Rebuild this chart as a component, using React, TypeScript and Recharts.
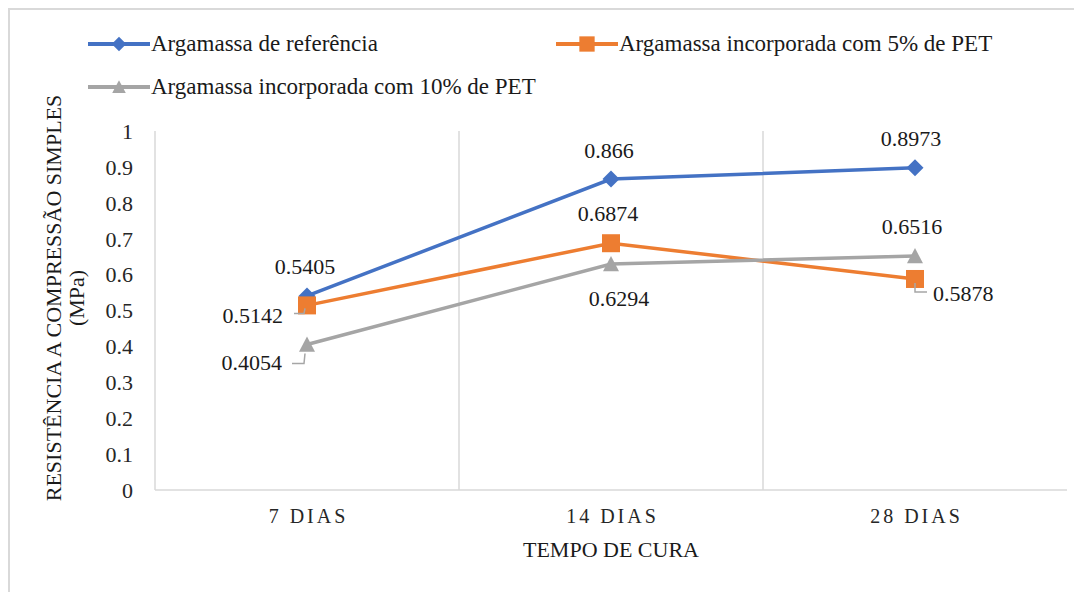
import React from 'react';
import { LineChart, Line, XAxis, YAxis, CartesianGrid, Legend, LabelList } from 'recharts';

const categories = ['7 DIAS', '14 DIAS', '28 DIAS'];
const referencia = [0.5405, 0.866, 0.8973];
const pet5 = [0.5142, 0.6874, 0.5878];
const pet10 = [0.4054, 0.6294, 0.6516];
const yTicks = [0, 0.1, 0.2, 0.3, 0.4, 0.5, 0.6, 0.7, 0.8, 0.9, 1];

const seriesNames = {
    ref: 'Argamassa de referência',
    p5: 'Argamassa incorporada com 5% de PET',
    p10: 'Argamassa incorporada com 10% de PET',
};

const chartData = categories.map((name, i) => ({
    name,
    ref: referencia[i],
    p5: pet5[i],
    p10: pet10[i],
}));

const FONT =
    "'Liberation Serif', 'LiberationSerif', 'Times New Roman', Times, 'Nimbus Roman', 'Nimbus Roman No9 L', FreeSerif, 'Noto Serif', 'DejaVu Serif', serif";
const BLUE = '#4472C4';
const ORANGE = '#ED7D31';
const GRAY = '#A5A5A5';
const AXIS = '#d9d9d9';

type Shape = 'diamond' | 'square' | 'triangle';

function Marker({ cx, cy, shape, color, size = 1 }: { cx: number; cy: number; shape: Shape; color: string; size?: number }) {
    if (shape === 'diamond') {
        const r = 8.5 * size;
        return <polygon points={`${cx},${cy - r} ${cx + r},${cy} ${cx},${cy + r} ${cx - r},${cy}`} fill={color} />;
    }
    if (shape === 'square') {
        const r = 9 * size;
        return <rect x={cx - r} y={cy - r} width={r * 2} height={r * 2} fill={color} />;
    }
    const r = 8 * size;
    return <polygon points={`${cx},${cy - r} ${cx + r},${cy + r * 0.9} ${cx - r},${cy + r * 0.9}`} fill={color} />;
}

const makeDot = (shape: Shape, color: string) => (props: any) => {
    const { cx, cy, index } = props;
    if (cx == null || cy == null) return <g key={`d-${index}`} />;
    return (
        <g key={`d-${shape}-${index}`}>
            <Marker cx={cx} cy={cy} shape={shape} color={color} />
        </g>
    );
};

// where each data label sits relative to its point, plus the small leader line
type Place = { dx: number; dy: number; anchor: 'start' | 'middle' | 'end'; leader?: number[][] };
const placements: Record<string, Place[]> = {
    ref: [
        { dx: -2, dy: -30, anchor: 'middle' },
        { dx: -2, dy: -29, anchor: 'middle' },
        { dx: -4, dy: -30, anchor: 'middle' },
    ],
    p5: [
        { dx: -24, dy: 10, anchor: 'end', leader: [[-13, 8], [-3, 8], [-2, 3]] },
        { dx: -3, dy: -30, anchor: 'middle' },
        { dx: 18, dy: 14, anchor: 'start', leader: [[0, 4], [0, 13], [12, 13]] },
    ],
    p10: [
        { dx: -25, dy: 18, anchor: 'end', leader: [[-15, 19], [-3, 19], [-2, 9]] },
        { dx: 8, dy: 34, anchor: 'middle' },
        { dx: -3, dy: -30, anchor: 'middle' },
    ],
};

const makeLabel = (key: string) => (props: any) => {
    const { x, y, value, index } = props;
    const p = placements[key][index];
    return (
        <g key={`l-${key}-${index}`}>
            {p.leader && (
                <polyline
                    points={p.leader.map(([a, b]) => `${x + a},${y + b}`).join(' ')}
                    fill="none"
                    stroke="#a6a6a6"
                    strokeWidth={1.5}
                />
            )}
            <text x={x + p.dx} y={y + p.dy} dy="0.35em" textAnchor={p.anchor} fontSize={22} style={{ fontFamily: FONT }} fill="#1a1a1a">
                {String(value)}
            </text>
        </g>
    );
};

const shapeOf: Record<string, Shape> = { ref: 'diamond', p5: 'square', p10: 'triangle' };
const legendPos: Record<string, { left: number; top: number }> = {
    ref: { left: 8, top: 0 },
    p5: { left: 476, top: 0 },
    p10: { left: 8, top: 43 },
};

function LegendContent({ payload }: any) {
    return (
        <div style={{ position: 'relative', width: 1000, height: 80 }}>
            {(payload || []).map((item: any) => (
                <div
                    key={item.dataKey}
                    style={{
                        position: 'absolute',
                        left: legendPos[item.dataKey].left,
                        top: legendPos[item.dataKey].top,
                        height: 28,
                        display: 'flex',
                        alignItems: 'center',
                        whiteSpace: 'nowrap',
                    }}
                >
                    <svg width={62} height={20}>
                        <line x1={0} y1={10} x2={62} y2={10} stroke={item.color} strokeWidth={4} />
                        <Marker cx={31} cy={10} shape={shapeOf[item.dataKey]} color={item.color} size={0.85} />
                    </svg>
                    <span style={{ fontFamily: FONT, fontSize: 23, color: '#1a1a1a', marginLeft: 1 }}>{item.value}</span>
                </div>
            ))}
        </div>
    );
}

function YTitle({ viewBox }: any) {
    const vb = viewBox || { x: 0, y: 121, width: 145, height: 359 };
    const cy = vb.y + vb.height / 2 - 12.5;
    return (
        <g fontSize={22} fill="#1a1a1a" style={{ fontFamily: FONT }}>
            <text x={51} y={cy} textAnchor="middle" transform={`rotate(-90 51 ${cy})`}>
                RESISTÊNCIA A COMPRESSÃO SIMPLES
            </text>
            <text x={74} y={cy} textAnchor="middle" transform={`rotate(-90 74 ${cy})`}>
                (MPa)
            </text>
        </g>
    );
}

function XTick({ x, y, payload }: any) {
    return (
        <text x={x + 1.5} y={y} dy="0.71em" textAnchor="middle" fontSize={20} letterSpacing={3} fill="#262626" style={{ fontFamily: FONT }}>
            {payload.value}
        </text>
    );
}

export default function App() {
    return (
        <div
            style={{
                width: 1072,
                height: 582,
                borderLeft: `2px solid ${AXIS}`,
                borderTop: `2px solid ${AXIS}`,
                fontFamily: FONT,
            }}
        >
            <LineChart
                width={1072}
                height={582}
                data={chartData}
                margin={{ top: 121, right: 15, bottom: 0, left: 0 }}
                style={{ fontFamily: FONT }}
            >
                <CartesianGrid
                    horizontal={false}
                    stroke={AXIS}
                    strokeWidth={1.5}
                    verticalCoordinatesGenerator={({ offset }: any) => [
                        offset.left + offset.width / 3,
                        offset.left + (2 * offset.width) / 3,
                    ]}
                />
                <XAxis
                    dataKey="name"
                    height={102}
                    padding={{ left: 152, right: 152 }}
                    axisLine={{ stroke: AXIS, strokeWidth: 1.5 }}
                    tickLine={false}
                    tickSize={0}
                    tickMargin={19}
                    tick={<XTick />}
                    label={{
                        value: 'TEMPO DE CURA',
                        position: 'insideBottom',
                        offset: 35,
                        fontSize: 22,
                        style: { fontFamily: FONT },
                        fill: '#1a1a1a',
                    }}
                />
                <YAxis
                    width={145}
                    domain={[0, 1]}
                    ticks={yTicks}
                    axisLine={{ stroke: AXIS, strokeWidth: 1.5 }}
                    tickLine={false}
                    tickSize={0}
                    tickMargin={22}
                    tick={{ fontSize: 22, fill: '#262626', style: { fontFamily: FONT } }}
                    label={<YTitle />}
                />
                <Legend
                    layout="horizontal"
                    verticalAlign="middle"
                    align="center"
                    wrapperStyle={{ top: 20, left: 70, width: 1000, height: 80 }}
                    content={<LegendContent />}
                />
                <Line
                    dataKey="ref"
                    name={seriesNames.ref}
                    stroke={BLUE}
                    strokeWidth={3.5}
                    dot={makeDot('diamond', BLUE)}
                    activeDot={false}
                    isAnimationActive={false}
                >
                    <LabelList dataKey="ref" content={makeLabel('ref')} />
                </Line>
                <Line
                    dataKey="p5"
                    name={seriesNames.p5}
                    stroke={ORANGE}
                    strokeWidth={3.5}
                    dot={makeDot('square', ORANGE)}
                    activeDot={false}
                    isAnimationActive={false}
                >
                    <LabelList dataKey="p5" content={makeLabel('p5')} />
                </Line>
                <Line
                    dataKey="p10"
                    name={seriesNames.p10}
                    stroke={GRAY}
                    strokeWidth={3.5}
                    dot={makeDot('triangle', GRAY)}
                    activeDot={false}
                    isAnimationActive={false}
                >
                    <LabelList dataKey="p10" content={makeLabel('p10')} />
                </Line>
            </LineChart>
        </div>
    );
}
